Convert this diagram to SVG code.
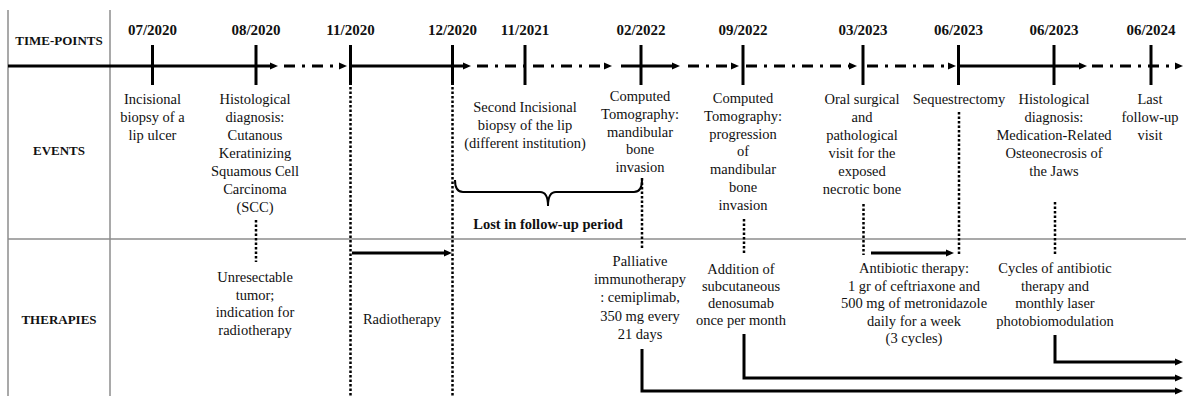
<svg xmlns="http://www.w3.org/2000/svg" width="1186" height="396" viewBox="0 0 1186 396" font-family="Liberation Serif, DejaVu Serif, serif">
<style>
.grid{stroke:#8c8c8c;stroke-width:1.5;fill:none}
.tl{stroke:#000;stroke-width:3;fill:none}
.dd{stroke-dasharray:11 7 3 7}
.tick{stroke:#000;stroke-width:3}
.dot{stroke:#000;stroke-width:2.5;stroke-dasharray:2.5 2;fill:none}
.arr{stroke:#000;stroke-width:3;fill:none;marker-end:url(#ah)}
.brace{stroke:#000;stroke-width:2;fill:none}
.lbl{font-family:'Liberation Serif','DejaVu Serif',serif;font-size:13px;font-weight:bold;text-anchor:middle;fill:#111}
.date{font-family:'Liberation Serif','DejaVu Serif',serif;font-size:15px;font-weight:bold;text-anchor:middle;fill:#111}
.t{font-family:'Liberation Serif','DejaVu Serif',serif;font-size:14.5px;text-anchor:middle;fill:#111}
.b{font-family:'Liberation Serif','DejaVu Serif',serif;font-size:14.5px;font-weight:bold;text-anchor:middle;fill:#111}
</style>
<defs>
<marker id="ah" markerUnits="userSpaceOnUse" markerWidth="9" markerHeight="8" refX="2" refY="4" orient="auto">
<path d="M0,0.5 L8,4 L0,7.5 z" fill="#000"/>
</marker>
</defs>
<rect width="1186" height="396" fill="#fff"/>
<g id="grid">
<line class="grid" x1="8" y1="10" x2="8" y2="396"/>
<line class="grid" x1="110" y1="10" x2="110" y2="396"/>
<line class="grid" x1="8" y1="239" x2="1186" y2="239"/>
<text class="lbl" x="59" y="45">TIME-POINTS</text>
<text class="lbl" x="59" y="155">EVENTS</text>
<text class="lbl" x="59" y="324">THERAPIES</text>
</g>
<g id="connectors">
<path class="arr" d="M8,66 H272"/>
<path class="arr dd" d="M284,66 H341"/>
<path class="arr" d="M350,66 H465"/>
<path class="arr dd" d="M477,66 H606"/>
<path class="arr" d="M621,66 H674"/>
<path class="arr dd" d="M688,66 H733"/>
<path class="arr dd" d="M746,66 H851"/>
<path class="arr dd" d="M867,66 H950"/>
<path class="arr" d="M960,66 H1081"/>
<path class="arr dd" d="M1092,66 H1177"/>
<line class="dot" x1="256" y1="220" x2="256" y2="262"/>
<line class="dot" x1="350.5" y1="87" x2="350.5" y2="396"/>
<line class="dot" x1="452.5" y1="87" x2="452.5" y2="396"/>
<line class="dot" x1="642" y1="178" x2="642" y2="250"/>
<line class="dot" x1="744" y1="219" x2="744" y2="254"/>
<line class="dot" x1="863.5" y1="204" x2="863.5" y2="255"/>
<line class="dot" x1="959" y1="112" x2="959" y2="256"/>
<line class="dot" x1="1055" y1="202" x2="1055" y2="255"/>
<path class="arr" d="M352,253 H446"/>
<path class="arr" d="M871,253 H948"/>
<path class="arr" d="M1055,335 V362 H1177"/>
<path class="arr" d="M744,334 V378 H1177"/>
<path class="arr" d="M642,349 V391 H1177"/>
<path class="brace" d="M455,180 Q455,192 463,192 L540,192 Q548,192 548,206 Q548,192 556,192 L634,192 Q642,192 642,180"/>
<text class="b" x="548" y="229">Lost in follow-up period</text>
</g>
<g id="tp-0720">
<line class="tick" x1="152.5" y1="45" x2="152.5" y2="85"/>
<text class="date" x="152.5" y="35">07/2020</text>
<text class="t" x="152.5" y="104"><tspan x="152.5">Incisional</tspan><tspan x="152.5" dy="18">biopsy of a</tspan><tspan x="152.5" dy="18">lip ulcer</tspan></text>
</g>
<g id="tp-0820">
<line class="tick" x1="256" y1="45" x2="256" y2="85"/>
<text class="date" x="256" y="35">08/2020</text>
<text class="t" x="255" y="104"><tspan x="255">Histological</tspan><tspan x="255" dy="18">diagnosis:</tspan><tspan x="255" dy="18">Cutanous</tspan><tspan x="255" dy="18">Keratinizing</tspan><tspan x="255" dy="18">Squamous Cell</tspan><tspan x="255" dy="18">Carcinoma</tspan><tspan x="255" dy="18">(SCC)</tspan></text>
</g>
<g id="th-0820">
<text class="t" x="255" y="282"><tspan x="255">Unresectable</tspan><tspan x="255" dy="17.5">tumor;</tspan><tspan x="255" dy="17.5">indication for</tspan><tspan x="255" dy="17.5">radiotherapy</tspan></text>
</g>
<g id="tp-1120">
<line class="tick" x1="350.5" y1="45" x2="350.5" y2="85"/>
<text class="date" x="350.5" y="35">11/2020</text>
</g>
<g id="th-radio">
<text class="t" x="402" y="324">Radiotherapy</text>
</g>
<g id="tp-1220">
<line class="tick" x1="452.5" y1="45" x2="452.5" y2="85"/>
<text class="date" x="452.5" y="35">12/2020</text>
</g>
<g id="tp-1121">
<line class="tick" x1="525" y1="45" x2="525" y2="85"/>
<text class="date" x="525" y="35">11/2021</text>
<text class="t" x="525" y="112"><tspan x="525">Second Incisional</tspan><tspan x="525" dy="18">biopsy of the lip</tspan><tspan x="525" dy="18">(different institution)</tspan></text>
</g>
<g id="tp-0222">
<line class="tick" x1="641" y1="45" x2="641" y2="85"/>
<text class="date" x="641" y="35">02/2022</text>
<text class="t" x="640" y="101"><tspan x="640">Computed</tspan><tspan x="640" dy="17.8">Tomography:</tspan><tspan x="640" dy="17.8">mandibular</tspan><tspan x="640" dy="17.8">bone</tspan><tspan x="640" dy="17.8">invasion</tspan></text>
</g>
<g id="th-0222">
<text class="t" x="640" y="266"><tspan x="640">Palliative</tspan><tspan x="640" dy="18.2">immunotherapy</tspan><tspan x="640" dy="18.2">: cemiplimab,</tspan><tspan x="640" dy="18.2">350 mg every</tspan><tspan x="640" dy="18.2">21 days</tspan></text>
</g>
<g id="tp-0922">
<line class="tick" x1="743" y1="45" x2="743" y2="85"/>
<text class="date" x="743" y="35">09/2022</text>
<text class="t" x="743" y="103"><tspan x="743">Computed</tspan><tspan x="743" dy="17.8">Tomography:</tspan><tspan x="743" dy="17.8">progression</tspan><tspan x="743" dy="17.8">of</tspan><tspan x="743" dy="17.8">mandibular</tspan><tspan x="743" dy="17.8">bone</tspan><tspan x="743" dy="17.8">invasion</tspan></text>
</g>
<g id="th-0922">
<text class="t" x="741" y="274"><tspan x="741">Addition of</tspan><tspan x="741" dy="17">subcutaneous</tspan><tspan x="741" dy="17">denosumab</tspan><tspan x="741" dy="17">once per month</tspan></text>
</g>
<g id="tp-0323">
<line class="tick" x1="863" y1="45" x2="863" y2="85"/>
<text class="date" x="863" y="35">03/2023</text>
<text class="t" x="862" y="104"><tspan x="862">Oral surgical</tspan><tspan x="862" dy="18">and</tspan><tspan x="862" dy="18">pathological</tspan><tspan x="862" dy="18">visit for the</tspan><tspan x="862" dy="18">exposed</tspan><tspan x="862" dy="18">necrotic bone</tspan></text>
</g>
<g id="th-0323">
<text class="t" x="914" y="273"><tspan x="914">Antibiotic therapy:</tspan><tspan x="914" dy="17.5">1 gr of ceftriaxone and</tspan><tspan x="914" dy="17.5">500 mg of metronidazole</tspan><tspan x="914" dy="17.5">daily for a week</tspan><tspan x="914" dy="17.5">(3 cycles)</tspan></text>
</g>
<g id="tp-0623a">
<line class="tick" x1="958.5" y1="45" x2="958.5" y2="85"/>
<text class="date" x="958.5" y="35">06/2023</text>
<text class="t" x="959" y="104">Sequestrectomy</text>
</g>
<g id="tp-0623b">
<line class="tick" x1="1054" y1="45" x2="1054" y2="85"/>
<text class="date" x="1054" y="35">06/2023</text>
<text class="t" x="1054" y="104"><tspan x="1054">Histological</tspan><tspan x="1054" dy="18">diagnosis:</tspan><tspan x="1054" dy="18">Medication-Related</tspan><tspan x="1054" dy="18">Osteonecrosis of</tspan><tspan x="1054" dy="18">the Jaws</tspan></text>
</g>
<g id="th-0623b">
<text class="t" x="1055" y="273"><tspan x="1055">Cycles of antibiotic</tspan><tspan x="1055" dy="17.5">therapy and</tspan><tspan x="1055" dy="17.5">monthly laser</tspan><tspan x="1055" dy="17.5">photobiomodulation</tspan></text>
</g>
<g id="tp-0624">
<line class="tick" x1="1151" y1="45" x2="1151" y2="85"/>
<text class="date" x="1151" y="35">06/2024</text>
<text class="t" x="1150" y="104"><tspan x="1150">Last</tspan><tspan x="1150" dy="18">follow-up</tspan><tspan x="1150" dy="18">visit</tspan></text>
</g>
</svg>
